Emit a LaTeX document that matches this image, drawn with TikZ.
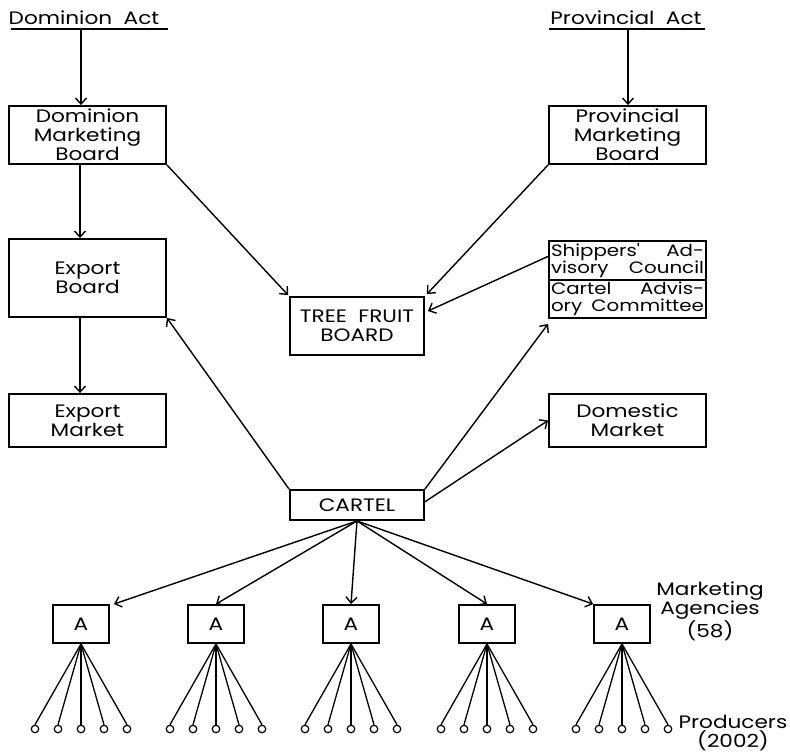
\documentclass[tikz,border=0pt]{standalone}
\usepackage{fontspec}
\newfontfamily\lett[FakeStretch=1.2]{Poppins}
\usetikzlibrary{arrows.meta,calc}
\tikzset{
  box/.style={draw, line width=1.9pt, inner sep=0pt, align=center, font=\lett\fontsize{18}{19}\selectfont},
  conn/.style={line width=1.4pt, -{Straight Barb[length=6pt,width=11pt,line width=1.4pt]}},
  fan/.style={line width=1.3pt},
  prod/.style={draw, circle, line width=1.2pt, minimum size=7.5pt, inner sep=0pt},
  lbl/.style={inner sep=0pt, align=center, font=\lett\fontsize{18}{19}\selectfont},
  half/.style={draw, line width=1.9pt, inner sep=1pt, text width=153pt, minimum width=157pt, font=\lett\fontsize{16.5}{17}\selectfont}
}
\begin{document}
\begin{tikzpicture}[x=1pt,y=-1pt]
\useasboundingbox[fill=white] (0,0) rectangle (790,755);
% titles
\node[lbl, anchor=base] (dact) at (84,24) {Dominion\ \ Act};
\draw[line width=1.5pt] (11,29) coordinate (dl) -- (168,29) coordinate (dr);
\coordinate (dactu) at (81,29);
\node[lbl, anchor=base] (pact) at (626,24) {Provincial\ \ Act};
\draw[line width=1.5pt] (549,29) coordinate (pl) -- (705,29) coordinate (pr);
\coordinate (pactu) at (628,29);
% boxes
\node[box, minimum width=157pt, minimum height=58pt] (dmb) at (87.5,135) {Dominion\\Marketing\\Board};
\node[box, minimum width=157pt, minimum height=78pt] (eb) at (87.5,278) {Export\\Board};
\node[box, minimum width=157pt, minimum height=53pt] (em) at (87.5,420.5) {Export\\Market};
\node[box, minimum width=157pt, minimum height=58pt] (pmb) at (627.5,135) {Provincial\\Marketing\\Board};
\node[box, minimum width=134pt, minimum height=58pt] (tfb) at (357,326) {TREE\ \ FRUIT\\BOARD};
\node[half, minimum height=39pt] (sac) at (627.5,260.5) {Shippers'\hfill Ad-\\visory\hfill Council};
\node[half, minimum height=38pt] (cac) at (627.5,299) {Cartel\hfill Advis-\\ory\hfill Committee};
\node[box, minimum width=157pt, minimum height=53pt] (dm) at (627.5,420.5) {Domestic\\Market};
\node[box, minimum width=134pt, minimum height=30pt] (cartel) at (357,505) {CARTEL};
% agencies
\foreach \i/\x in {1/81,2/216,3/351,4/487,5/622}{
  \node[box, minimum width=56pt, minimum height=38pt] (a\i) at (\x,624) {A};
  \foreach \j/\d in {1/-46,2/-23,3/0,4/23,5/46}{
    \node[prod] (p\i\j) at (\x+\d,729) {};
    \draw[fan] (a\i.south) -- (p\i\j.north);
  }
}
\node[lbl, anchor=north] (mal) at (710,582) {Marketing\\Agencies\\(58)};
\node[lbl, anchor=north] (prl) at (733,715) {Producers\\(2002)};
% connectors
\coordinate (ax) at (80,0);
\draw[conn] (dactu) -- (dactu |- dmb.north);
\draw[conn] (pactu) -- (pactu |- pmb.north);
\draw[conn] (dmb.south -| ax) -- (eb.north -| ax);
\draw[conn] (eb.south -| ax) -- (em.north -| ax);
\draw[conn] (dmb.south east) -- ($(tfb.north west)+(-1,-1)$);
\draw[conn] (pmb.south west) -- ($(tfb.north east)+(2,-2)$);
\draw[conn] ($(sac.north west)!0.4!(sac.south west)$) -- ($(tfb.north east)!0.25!(tfb.south east)+(3,0)$);
\draw[conn] (cartel.north west) -- (eb.south east);
\draw[conn] (cartel.north east) -- ($(cac.south west)+(0,5)$);
\draw[conn] ($(cartel.north east)!0.4!(cartel.south east)$) -- (dm.west);
\draw[conn] (cartel.south) -- ($(a1.north east)+(4,0)$);
\draw[conn] (cartel.south) -- (a2.north);
\draw[conn] (cartel.south) -- (a3.north);
\draw[conn] (cartel.south) -- (a4.north);
\draw[conn] (cartel.south) -- (a5.north west);
\end{tikzpicture}
\end{document}
